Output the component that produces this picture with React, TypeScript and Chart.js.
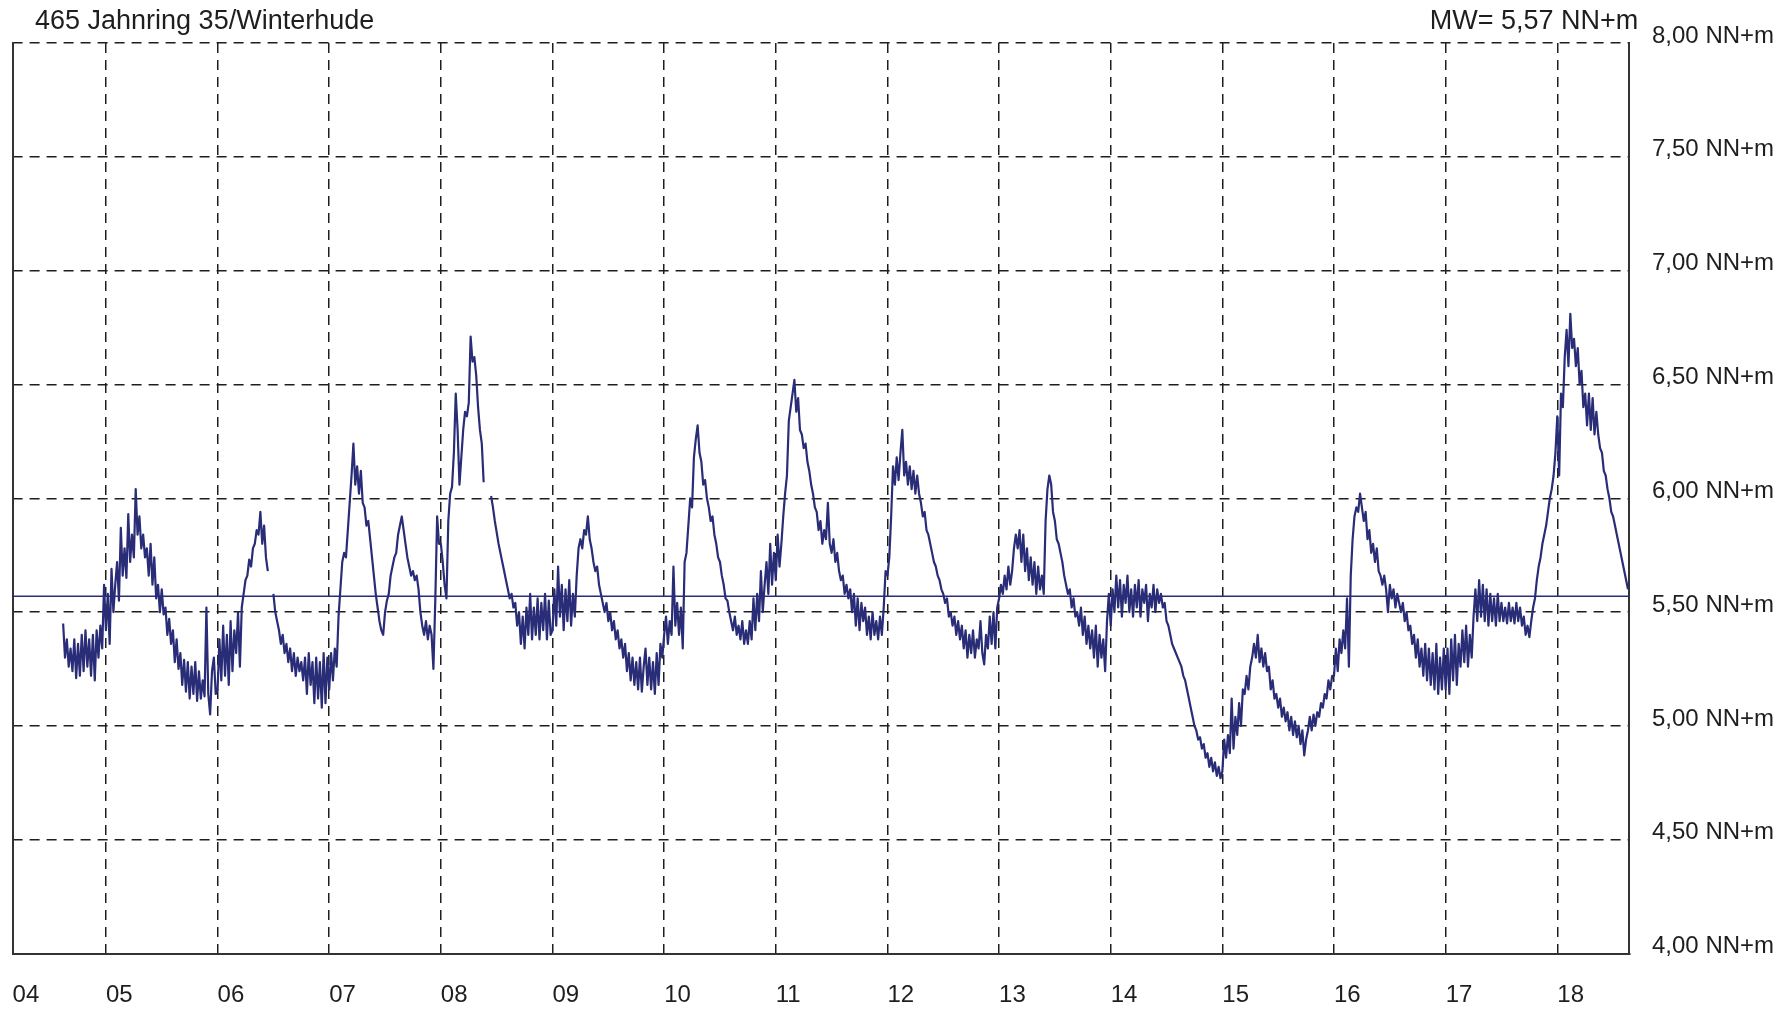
import { useEffect, useRef } from "react";
import { Chart, registerables } from "chart.js";

Chart.register(...registerables);

// ---- Chart texts ----
const stationTitle = "465 Jahnring 35/Winterhude";
const unitLabel = "NN+m";
const meanValue = 5.57;

// ---- Axes ----
const axisStart = 2004.164; // 1 Mar 2004
const axisEnd = 2018.645;
const yearTicks = [2005, 2006, 2007, 2008, 2009, 2010, 2011, 2012, 2013, 2014, 2015, 2016, 2017, 2018];
const yMin = 4;
const yMax = 8;
const yStep = 0.5;

// ---- Groundwater level (NN+m), samples every 1/60 year ----
const samplesPerYear = 60;
const y2004Start = 37; // first sample of 2004 (series starts in Aug 2004)
const y2004 = [5.45, 5.30, 5.38, 5.26, 5.34, 5.24, 5.38, 5.21, 5.36, 5.22, 5.40, 5.24, 5.42, 5.26, 5.38, 5.22,
  5.40, 5.20, 5.42, 5.30, 5.44, 5.34, 5.62];
const y2005 = [5.42, 5.58, 5.36, 5.69, 5.50, 5.62, 5.72, 5.55, 5.87, 5.66, 5.78, 5.65, 5.93, 5.72, 5.84,
  5.74, 6.04, 5.84, 5.92, 5.78, 5.84, 5.74, 5.78, 5.66, 5.80, 5.62, 5.74, 5.56, 5.62, 5.50,
  5.60, 5.49, 5.52, 5.40, 5.47, 5.36, 5.42, 5.28, 5.38, 5.25, 5.32, 5.18, 5.29, 5.15, 5.28,
  5.12, 5.26, 5.14, 5.28, 5.11, 5.24, 5.12, 5.20, 5.13, 5.52, 5.14, 5.05, 5.24, 5.30, 5.14];
const y2006 = [5.16, 5.38, 5.20, 5.44, 5.22, 5.40, 5.18, 5.46, 5.24, 5.42, 5.32, 5.50, 5.26, 5.52, 5.58,
  5.64, 5.66, 5.73, 5.70, 5.78, 5.80, 5.86, 5.84, 5.94, 5.80, 5.88, 5.74, 5.68, null, null,
  5.58, 5.50, 5.46, 5.42, 5.36, 5.40, 5.32, 5.36, 5.28, 5.34, 5.24, 5.32, 5.22, 5.30, 5.24,
  5.28, 5.20, 5.30, 5.14, 5.32, 5.18, 5.28, 5.10, 5.30, 5.12, 5.28, 5.08, 5.32, 5.10, 5.30];
const y2007 = [5.16, 5.32, 5.20, 5.34, 5.26, 5.48, 5.60, 5.72, 5.76, 5.74, 5.86, 5.98, 6.10, 6.24, 6.06,
  6.14, 6.02, 6.12, 5.98, 5.96, 5.88, 5.90, 5.82, 5.74, 5.66, 5.58, 5.52, 5.46, 5.42, 5.40,
  5.50, 5.55, 5.58, 5.66, 5.70, 5.74, 5.76, 5.84, 5.88, 5.92, 5.86, 5.80, 5.74, 5.70, 5.66,
  5.68, 5.64, 5.66, 5.60, 5.50, 5.44, 5.40, 5.46, 5.38, 5.44, 5.40, 5.25, 5.55, 5.92, 5.80];
const y2008 = [5.80, 5.72, 5.62, 5.56, 5.90, 6.02, 6.05, 6.20, 6.46, 6.30, 6.06, 6.18, 6.30, 6.38, 6.36,
  6.42, 6.71, 6.60, 6.62, 6.54, 6.40, 6.30, 6.24, 6.07, null, null, null, 6.01, 5.96, 5.90,
  5.85, 5.80, 5.76, 5.72, 5.68, 5.64, 5.60, 5.56, 5.58, 5.52, 5.54, 5.44, 5.50, 5.36, 5.48,
  5.34, 5.52, 5.40, 5.58, 5.38, 5.52, 5.40, 5.56, 5.38, 5.54, 5.42, 5.58, 5.38, 5.55, 5.40];
const y2009 = [5.42, 5.60, 5.44, 5.70, 5.48, 5.62, 5.42, 5.60, 5.46, 5.64, 5.44, 5.58, 5.48, 5.66, 5.78,
  5.82, 5.78, 5.86, 5.84, 5.92, 5.82, 5.78, 5.72, 5.68, 5.70, 5.62, 5.58, 5.54, 5.50, 5.54,
  5.46, 5.50, 5.42, 5.46, 5.38, 5.42, 5.34, 5.38, 5.30, 5.36, 5.24, 5.32, 5.20, 5.30, 5.18,
  5.28, 5.16, 5.30, 5.15, 5.26, 5.34, 5.18, 5.30, 5.16, 5.28, 5.14, 5.32, 5.18, 5.36, 5.30];
const y2010 = [5.40, 5.48, 5.36, 5.46, 5.40, 5.70, 5.44, 5.54, 5.40, 5.52, 5.34, 5.72, 5.76, 5.88, 6.00,
  5.96, 6.18, 6.26, 6.32, 6.20, 6.16, 6.06, 6.08, 6.00, 5.96, 5.90, 5.92, 5.84, 5.80, 5.74,
  5.72, 5.66, 5.62, 5.56, 5.55, 5.50, 5.46, 5.42, 5.48, 5.40, 5.44, 5.38, 5.46, 5.36, 5.42,
  5.36, 5.46, 5.38, 5.56, 5.42, 5.58, 5.46, 5.68, 5.50, 5.62, 5.72, 5.58, 5.80, 5.62, 5.76];
const y2011 = [5.64, 5.84, 5.70, 5.80, 5.92, 6.02, 6.10, 6.34, 6.40, 6.46, 6.52, 6.38, 6.44, 6.30, 6.28,
  6.22, 6.24, 6.16, 6.12, 6.06, 6.02, 5.96, 5.94, 5.86, 5.90, 5.80, 5.86, 5.82, 5.98, 5.80,
  5.76, 5.82, 5.72, 5.76, 5.68, 5.64, 5.66, 5.58, 5.62, 5.56, 5.60, 5.50, 5.58, 5.44, 5.56,
  5.42, 5.54, 5.46, 5.52, 5.40, 5.48, 5.38, 5.50, 5.40, 5.46, 5.38, 5.48, 5.40, 5.52, 5.68];
const y2012 = [5.66, 5.74, 5.92, 6.14, 6.06, 6.18, 6.08, 6.20, 6.30, 6.10, 6.16, 6.06, 6.14, 6.04, 6.12,
  6.02, 6.10, 6.02, 5.98, 5.92, 5.94, 5.86, 5.84, 5.80, 5.76, 5.72, 5.70, 5.66, 5.64, 5.60,
  5.58, 5.54, 5.56, 5.48, 5.50, 5.44, 5.48, 5.40, 5.46, 5.38, 5.44, 5.34, 5.42, 5.30, 5.40,
  5.32, 5.42, 5.30, 5.38, 5.34, 5.46, 5.32, 5.27, 5.40, 5.34, 5.48, 5.36, 5.50, 5.34, 5.52];
const y2013 = [5.56, 5.62, 5.58, 5.66, 5.60, 5.70, 5.62, 5.68, 5.78, 5.84, 5.78, 5.86, 5.72, 5.84, 5.68,
  5.78, 5.64, 5.74, 5.62, 5.72, 5.58, 5.70, 5.60, 5.66, 5.58, 5.90, 6.04, 6.10, 6.06, 5.94,
  5.90, 5.82, 5.80, 5.76, 5.72, 5.66, 5.62, 5.58, 5.60, 5.52, 5.56, 5.48, 5.50, 5.44, 5.52,
  5.40, 5.48, 5.36, 5.44, 5.34, 5.42, 5.30, 5.44, 5.26, 5.40, 5.30, 5.38, 5.24, 5.46, 5.58];
const y2014 = [5.44, 5.60, 5.50, 5.66, 5.52, 5.64, 5.48, 5.62, 5.54, 5.66, 5.50, 5.60, 5.48, 5.62, 5.52,
  5.64, 5.48, 5.60, 5.54, 5.62, 5.46, 5.58, 5.52, 5.62, 5.50, 5.60, 5.54, 5.58, 5.52, 5.54,
  5.46, 5.44, 5.40, 5.36, 5.34, 5.32, 5.30, 5.28, 5.26, 5.22, 5.20, 5.16, 5.12, 5.08, 5.04,
  5.00, 4.98, 4.94, 4.95, 4.90, 4.92, 4.86, 4.88, 4.82, 4.86, 4.80, 4.84, 4.78, 4.82, 4.77];
const y2015 = [4.80, 4.94, 4.86, 4.96, 4.88, 5.12, 4.90, 5.04, 4.96, 5.10, 5.00, 5.16, 5.14, 5.22, 5.16,
  5.26, 5.30, 5.36, 5.30, 5.40, 5.28, 5.34, 5.26, 5.32, 5.24, 5.26, 5.16, 5.20, 5.12, 5.14,
  5.08, 5.12, 5.04, 5.08, 5.02, 5.06, 4.98, 5.04, 4.96, 5.02, 4.95, 5.00, 4.92, 4.98, 4.87,
  4.94, 4.98, 5.04, 4.98, 5.05, 5.00, 5.06, 5.04, 5.10, 5.08, 5.14, 5.12, 5.20, 5.16, 5.22];
const y2016 = [5.22, 5.34, 5.24, 5.38, 5.32, 5.42, 5.34, 5.56, 5.26, 5.66, 5.82, 5.92, 5.96, 5.94, 6.02,
  5.96, 5.90, 5.94, 5.82, 5.86, 5.76, 5.80, 5.72, 5.78, 5.68, 5.66, 5.62, 5.66, 5.60, 5.50,
  5.62, 5.56, 5.60, 5.52, 5.58, 5.54, 5.50, 5.54, 5.46, 5.50, 5.42, 5.44, 5.36, 5.40, 5.30,
  5.38, 5.26, 5.34, 5.22, 5.36, 5.20, 5.34, 5.18, 5.32, 5.16, 5.36, 5.14, 5.30, 5.16, 5.34];
const y2017 = [5.16, 5.34, 5.14, 5.38, 5.20, 5.40, 5.18, 5.36, 5.26, 5.42, 5.28, 5.44, 5.26, 5.40, 5.30,
  5.48, 5.60, 5.46, 5.64, 5.48, 5.62, 5.46, 5.60, 5.44, 5.58, 5.46, 5.56, 5.44, 5.58, 5.46,
  5.54, 5.46, 5.52, 5.45, 5.54, 5.46, 5.52, 5.45, 5.54, 5.46, 5.52, 5.44, 5.48, 5.40, 5.44,
  5.39, 5.46, 5.52, 5.56, 5.64, 5.70, 5.74, 5.80, 5.84, 5.88, 5.94, 6.00, 6.04, 6.10, 6.20];
const y2018 = [6.36, 6.10, 6.46, 6.40, 6.62, 6.74, 6.58, 6.81, 6.66, 6.70, 6.58, 6.66, 6.50, 6.56, 6.40,
  6.46, 6.32, 6.46, 6.30, 6.44, 6.28, 6.38, 6.28, 6.22, 6.20, 6.12, 6.10, 6.04, 6.00, 5.94,
  5.92, 5.88, 5.84, 5.80, 5.76, 5.72, 5.68, 5.64, 5.60];

const seriesByYear: [number, number, (number | null)[]][] = [
  [2004, y2004Start, y2004], [2005, 0, y2005], [2006, 0, y2006], [2007, 0, y2007], [2008, 0, y2008],
  [2009, 0, y2009], [2010, 0, y2010], [2011, 0, y2011], [2012, 0, y2012], [2013, 0, y2013],
  [2014, 0, y2014], [2015, 0, y2015], [2016, 0, y2016], [2017, 0, y2017], [2018, 0, y2018],
];

const LINE_COLOR = "#292c76";
const GRID_COLOR = "#1e1e1e";
const TEXT_COLOR = "#1e1e1e";
const FONT_FAMILY = '"Liberation Sans", Arial, Helvetica, sans-serif';

function buildPoints() {
  const pts: { x: number; y: number | null }[] = [];
  for (const [year, start, vals] of seriesByYear) {
    vals.forEach((v, i) => pts.push({ x: year + (start + i) / samplesPerYear, y: v }));
  }
  return pts;
}

const fmtLevel = (v: number) => `${v.toFixed(2).replace(".", ",")} ${unitLabel}`;

const headerPlugin = {
  id: "headerText",
  afterDraw(chart: any) {
    const { ctx, chartArea } = chart;
    ctx.save();
    ctx.fillStyle = TEXT_COLOR;
    ctx.font = `27px ${FONT_FAMILY}`;
    ctx.textBaseline = "alphabetic";
    ctx.textAlign = "left";
    ctx.fillText(stationTitle, 35, 29);
    ctx.textAlign = "right";
    ctx.fillText(`MW= ${meanValue.toFixed(2).replace(".", ",")} ${unitLabel}`, chartArea.right + 9, 29);
    ctx.restore();
  },
};

export default function App() {
  const canvasRef = useRef<HTMLCanvasElement | null>(null);

  useEffect(() => {
    if (!canvasRef.current) return;
    const chart = new Chart(canvasRef.current, {
      type: "line",
      data: {
        datasets: [
          {
            label: "Wasserstand",
            data: buildPoints() as any,
            borderColor: LINE_COLOR,
            borderWidth: 2.2,
            pointRadius: 0,
            tension: 0,
            spanGaps: false,
            borderJoinStyle: "round",
            yAxisID: "y",
          },
          {
            label: "MW",
            data: [
              { x: axisStart, y: meanValue },
              { x: axisEnd, y: meanValue },
            ] as any,
            borderColor: LINE_COLOR,
            borderWidth: 1.5,
            pointRadius: 0,
            yAxisID: "y",
          },
        ],
      },
      options: {
        animation: false,
        responsive: true,
        maintainAspectRatio: false,
        devicePixelRatio: 1,
        layout: { padding: { top: 43, left: 0, right: 0, bottom: 0 } },
        plugins: { legend: { display: false }, tooltip: { enabled: false }, title: { display: false } },
        scales: {
          x: {
            type: "linear",
            min: axisStart,
            max: axisEnd,
            afterBuildTicks: (scale: any) => {
              scale.ticks = [axisStart, ...yearTicks].map((value) => ({ value }));
            },
            afterFit: (scale: any) => {
              scale.height = 55.5;
              scale.paddingLeft = 0;
              scale.paddingRight = 0;
            },
            ticks: {
              autoSkip: false,
              maxRotation: 0,
              minRotation: 0,
              align: "start",
              padding: 27.5,
              color: TEXT_COLOR,
              font: { family: FONT_FAMILY, size: 24 },
              callback: (value: any) => String(Math.floor(Number(value)) % 100).padStart(2, "0"),
            },
            grid: { color: GRID_COLOR, lineWidth: 1.5, drawTicks: false },
            border: { display: true, color: "#333333", width: 2, dash: [10, 7] },
          },
          y: {
            type: "linear",
            position: "right",
            min: yMin,
            max: yMax,
            afterFit: (scale: any) => {
              scale.width = 161.7;
            },
            ticks: {
              stepSize: yStep,
              padding: 22.7,
              labelOffset: -7,
              color: TEXT_COLOR,
              font: { family: FONT_FAMILY, size: 24 },
              callback: (value: any) => fmtLevel(Number(value)),
            },
            grid: { color: GRID_COLOR, lineWidth: 1.5, drawTicks: false },
            border: { display: true, color: "#333333", width: 2, dash: [10, 7] },
          },
          yl: {
            type: "linear",
            position: "left",
            min: yMin,
            max: yMax,
            afterFit: (scale: any) => {
              scale.width = 12.6;
            },
            ticks: { display: false },
            grid: { display: false, drawTicks: false },
            border: { display: true, color: "#333333", width: 2 },
          },
        },
      } as any,
      plugins: [headerPlugin],
    });
    return () => chart.destroy();
  }, []);

  return (
    <div style={{ position: "fixed", left: 0, top: 0, width: 1791, height: 1009, background: "#ffffff" }}>
      <canvas ref={canvasRef} />
    </div>
  );
}
